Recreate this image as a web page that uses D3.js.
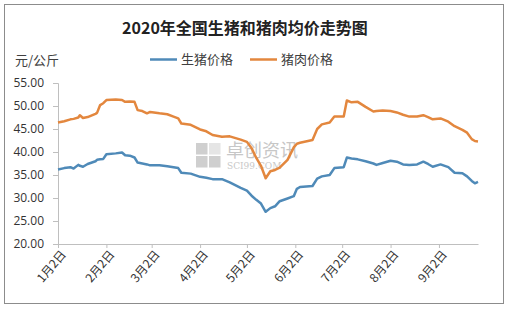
<!DOCTYPE html>
<html>
<head>
<meta charset="utf-8">
<script src="https://cdn.jsdelivr.net/npm/d3@7"></script>
<style>
  body { margin: 0; background: #fff; }
  svg text { font-family: "Noto Sans CJK SC", "Liberation Sans", sans-serif; }
</style>
</head>
<body>
<div id="chart"></div>
<script>
var width = 509;
var height = 310;

// dates (2020) and prices
var dates = ["01-02","01-06","01-10","01-12","01-15","01-16","01-18","01-21","01-26","01-27","01-29","01-31",
  "02-02","02-08","02-12","02-14","02-17","02-20","02-22","02-25","02-28","03-01","03-07","03-12","03-16",
  "03-19","03-21","03-27","04-02","04-06","04-10","04-16","04-21","04-28","05-02","05-05","05-08","05-11",
  "05-14","05-17","05-20","05-23","05-28","06-01","06-03","06-05","06-13","06-16","06-19","06-24","06-27",
  "07-03","07-05","07-08","07-12","07-17","07-22","07-24","07-28","08-02","08-06","08-10","08-14","08-19",
  "08-23","08-26","08-29","09-03","09-08","09-12","09-17","09-20","09-23","09-25","09-27"];

var hog = [36.2,36.5,36.7,36.4,37.2,37.0,36.8,37.4,38.0,38.3,38.4,38.5,
  39.5,39.7,39.9,39.3,39.2,38.8,37.7,37.5,37.3,37.1,37.1,36.9,36.7,
  36.5,35.5,35.3,34.6,34.4,34.1,34.1,33.4,32.2,31.6,30.5,29.6,28.8,
  27.0,27.8,28.2,29.3,29.9,30.4,32.0,32.4,32.6,34.2,34.7,35.0,36.5,
  36.7,38.8,38.6,38.4,38.0,37.5,37.2,37.6,38.1,37.9,37.3,37.2,37.3,
  37.9,37.4,36.8,37.3,36.7,35.5,35.4,34.7,33.7,33.2,33.5];

var pork = [46.4,46.7,47.1,47.2,47.5,48.0,47.4,47.6,48.3,48.5,50.2,50.6,
  51.3,51.4,51.3,50.9,51.0,50.9,49.1,48.9,48.4,48.7,48.4,48.2,47.7,
  47.3,46.2,45.9,44.9,44.5,43.7,43.3,43.4,42.7,42.2,40.8,38.7,37.0,
  34.3,35.8,36.1,36.6,38.3,41.0,41.8,42.0,42.6,45.0,46.0,46.4,47.7,
  47.7,51.2,50.8,50.9,49.8,48.8,48.9,49.0,48.9,48.6,48.1,47.7,47.7,
  48.0,47.6,47.1,47.3,46.6,45.6,44.8,44.2,42.8,42.4,42.3];

var yTicks = [20, 25, 30, 35, 40, 45, 50, 55];
var xTicks = ["01-02","02-02","03-02","04-02","05-02","06-02","07-02","08-02","09-02"];

var seriesNames = ["生猪价格", "猪肉价格"];
var colors = ["#4f8ab8", "#e3873e"];

var parse = d3.timeParse("%Y-%m-%d");
function toDate(s) { return parse("2020-" + s); }

var svg = d3.select("#chart").append("svg")
  .attr("width", width)
  .attr("height", height);

// outer frame
svg.append("rect")
  .attr("x", 4.5).attr("y", 4.5)
  .attr("width", 499).attr("height", 299)
  .attr("fill", "#fff")
  .attr("stroke", "#8c8c8c");

var xScale = d3.scaleTime()
  .domain([toDate("01-02"), toDate("09-27")])
  .range([58, 478]);
var yScale = d3.scaleLinear().domain([20, 55]).range([244, 83]);

// title
svg.append("text")
  .attr("x", 245).attr("y", 34)
  .attr("text-anchor", "middle")
  .style("font-size", "16px")
  .style("font-weight", "bold")
  .style("fill", "#222")
  .text("2020年全国生猪和猪肉均价走势图");

svg.append("text")
  .attr("x", 15).attr("y", 65)
  .style("font-size", "13px")
  .style("fill", "#404040")
  .text("元/公斤");

// legend
var legend = svg.append("g");
[150, 250].forEach(function(lx, i) {
  legend.append("line")
    .attr("x1", lx).attr("x2", lx + 27)
    .attr("y1", 59.5).attr("y2", 59.5)
    .attr("stroke", colors[i]).attr("stroke-width", 2.5);
  legend.append("text")
    .attr("x", lx + 31).attr("y", 64)
    .style("font-size", "13px")
    .style("fill", "#404040")
    .text(seriesNames[i]);
});

// watermark
var wm = svg.append("g").attr("opacity", 0.55);
[[196, 143], [209, 143], [196, 156], [209, 156]].forEach(function(p, i) {
  wm.append("rect")
    .attr("x", p[0]).attr("y", p[1])
    .attr("width", 11.5).attr("height", 11.5)
    .attr("fill", i == 1 ? "#d0d0d0" : "#a8a8a8");
});
wm.append("text")
  .attr("x", 226).attr("y", 157)
  .style("font-size", "18px")
  .style("fill", "#9a9a9a")
  .text("卓创资讯");
wm.append("text")
  .attr("x", 227).attr("y", 169)
  .style("font-size", "9px")
  .style("font-family", "DejaVu Serif, serif")
  .style("fill", "#9a9a9a")
  .text("SCI99.COM");

// axes
var yAxis = d3.axisLeft(yScale)
  .tickValues(yTicks)
  .tickSize(5)
  .tickFormat(d3.format(".2f"));
var gy = svg.append("g")
  .attr("transform", "translate(58,0)")
  .call(yAxis);
gy.select(".domain").attr("stroke", "#bfbfbf");
gy.selectAll(".tick line").attr("stroke", "#bfbfbf");
gy.selectAll(".tick text")
  .attr("x", -14)
  .style("font-size", "12px")
  .style("font-family", "Open Sans, sans-serif")
  .style("fill", "#333");

var xAxis = d3.axisBottom(xScale)
  .tickValues(xTicks.map(toDate))
  .tickSize(4)
  .tickSizeOuter(0)
  .tickFormat(function(d) { return (d.getMonth() + 1) + "月" + d.getDate() + "日"; });
var gx = svg.append("g")
  .attr("transform", "translate(0,244)")
  .call(xAxis);
gx.select(".domain").attr("stroke", "#bfbfbf");
gx.selectAll(".tick line").attr("stroke", "#bfbfbf");
gx.selectAll(".tick text")
  .attr("transform", "translate(5,8) rotate(-50)")
  .attr("x", 0).attr("y", 0).attr("dy", "0.35em")
  .style("text-anchor", "end")
  .style("font-size", "12px")
  .style("fill", "#333");

// lines
var line = d3.line()
  .x(function(d) { return xScale(d.date); })
  .y(function(d) { return yScale(d.value); });

[hog, pork].forEach(function(vals, i) {
  var rows = dates.map(function(s, j) { return { date: toDate(s), value: vals[j] }; });
  svg.append("path")
    .datum(rows)
    .attr("fill", "none")
    .attr("stroke", colors[i])
    .attr("stroke-width", 2.5)
    .attr("stroke-linejoin", "round")
    .attr("d", line);
});
</script>
</body>
</html>
